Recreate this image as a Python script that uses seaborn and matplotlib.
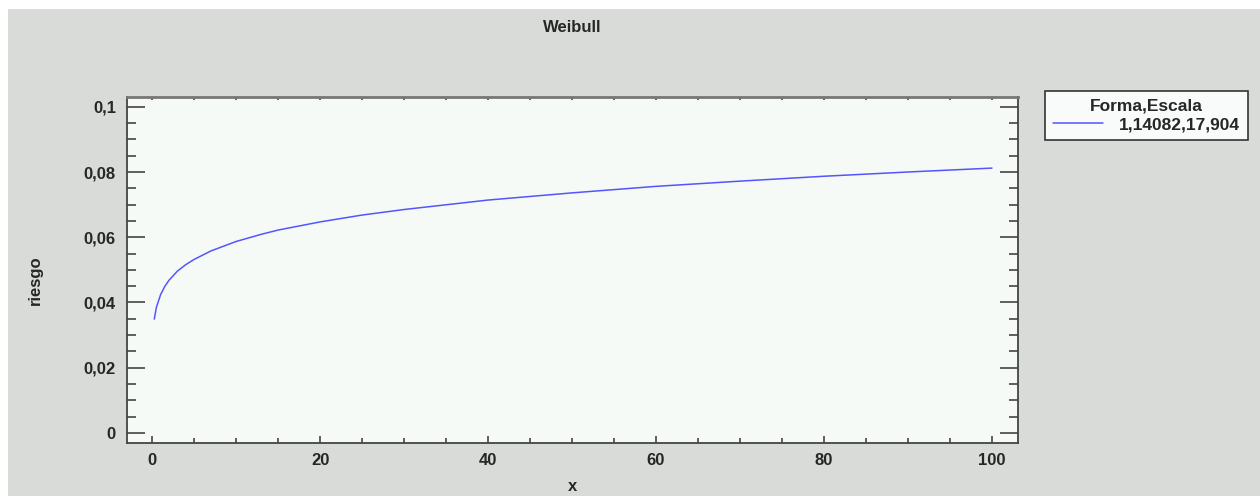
import numpy as np
import pandas as pd
import seaborn as sns
import matplotlib.pyplot as plt
import matplotlib.ticker as ticker
from matplotlib.patches import Rectangle

# Valores (funcion de riesgo Weibull)
x_vals = [0.25, 0.5, 1, 1.5, 2, 3, 4, 5, 7, 10, 13, 15, 20, 25, 30, 40, 50, 60, 70, 80, 90, 100]
riesgo_vals = [0.0349, 0.0385, 0.0424, 0.0449, 0.0468, 0.0496, 0.0516, 0.0532, 0.0558, 0.0587,
               0.0609, 0.0622, 0.0647, 0.0668, 0.0685, 0.0714, 0.0736, 0.0756, 0.0772, 0.0787,
               0.0800, 0.0812]
serie_label = '1,14082,17,904'
legend_title = 'Forma,Escala'

datos = pd.DataFrame({'x': x_vals, 'riesgo': riesgo_vals})

sns.set_style('ticks')
plt.rcParams['font.family'] = ['Liberation Sans', 'DejaVu Sans']

fig = plt.figure(figsize=(12.6, 4.96), dpi=100, facecolor='#d8dbd8')
# bordes blancos arriba e izquierda
fig.patches.append(Rectangle((0, 1 - 9 / 496), 1, 9 / 496, transform=fig.transFigure,
                             facecolor='white', edgecolor='none', zorder=0))
fig.patches.append(Rectangle((0, 0), 8 / 1260, 1, transform=fig.transFigure,
                             facecolor='white', edgecolor='none', zorder=0))

ax = fig.add_axes([127 / 1260, 1 - 443 / 496, 891 / 1260, 346 / 496])
ax.set_facecolor('#f5faf7')

sns.lineplot(data=datos, x='x', y='riesgo', ax=ax, color='#5555ff', linewidth=1.1, label=serie_label)

ax.set_xlim(-3, 103.1)
ax.set_ylim(-0.0031, 0.103)

ax.xaxis.set_major_locator(ticker.MultipleLocator(20))
ax.xaxis.set_minor_locator(ticker.MultipleLocator(5))
ax.yaxis.set_major_locator(ticker.MultipleLocator(0.02))
ax.yaxis.set_minor_locator(ticker.MultipleLocator(0.005))

coma = ticker.FuncFormatter(lambda v, p: f'{round(v, 4):g}'.replace('.', ','))
ax.xaxis.set_major_formatter(coma)
ax.yaxis.set_major_formatter(coma)

ax.tick_params(axis='y', which='major', direction='in', length=13, width=1.2, color='#444444',
               left=True, right=True, labelsize=12, pad=8)
ax.tick_params(axis='y', which='minor', direction='in', length=6.5, width=1.2, color='#444444',
               left=True, right=True)
ax.tick_params(axis='x', which='major', direction='in', length=5, width=1.2, color='#444444',
               bottom=True, top=False, labelsize=12, pad=7)
ax.tick_params(axis='x', which='minor', direction='in', length=3.5, width=1.2, color='#444444',
               bottom=True, top=False)
for lab in ax.get_xticklabels() + ax.get_yticklabels():
    lab.set_fontweight('bold')

# ticks cortos arriba
top = ax.secondary_xaxis('top')
top.xaxis.set_major_locator(ticker.MultipleLocator(20))
top.xaxis.set_minor_locator(ticker.MultipleLocator(5))
top.tick_params(which='both', direction='in', length=2.5, width=1.2, color='#444444', labeltop=False)
top.spines['top'].set_visible(False)

for s in ax.spines.values():
    s.set_color('#444444')
    s.set_linewidth(1.3)
ax.spines['top'].set_color('#777777')
ax.spines['top'].set_linewidth(2)

ax.set_xlabel('x', fontsize=12, fontweight='bold')
ax.set_ylabel('riesgo', fontsize=12, fontweight='bold')
ax.xaxis.set_label_coords(0.5, -0.127)
ax.yaxis.set_label_coords(-0.103, 0.47)
ax.xaxis.label.set_va('center')
ax.yaxis.label.set_va('center')

fig.text(572 / 1260, 1 - 27 / 496, 'Weibull', ha='center', va='center', fontsize=12, fontweight='bold')

leg = ax.legend(loc='upper left', bbox_to_anchor=(1045 / 1260, 1 - 91 / 496), bbox_transform=fig.transFigure,
                borderaxespad=0, title=legend_title, fancybox=False, frameon=True, framealpha=1,
                facecolor='#f8fbf9', edgecolor='#333333', handlelength=2.9, handletextpad=0.9,
                borderpad=0.45, labelspacing=0.2, prop={'size': 12.5, 'weight': 'bold'},
                title_fontproperties={'size': 12.5, 'weight': 'bold'})
leg.get_frame().set_linewidth(1.2)

fig.savefig('out.png', dpi=100, facecolor=fig.get_facecolor())
